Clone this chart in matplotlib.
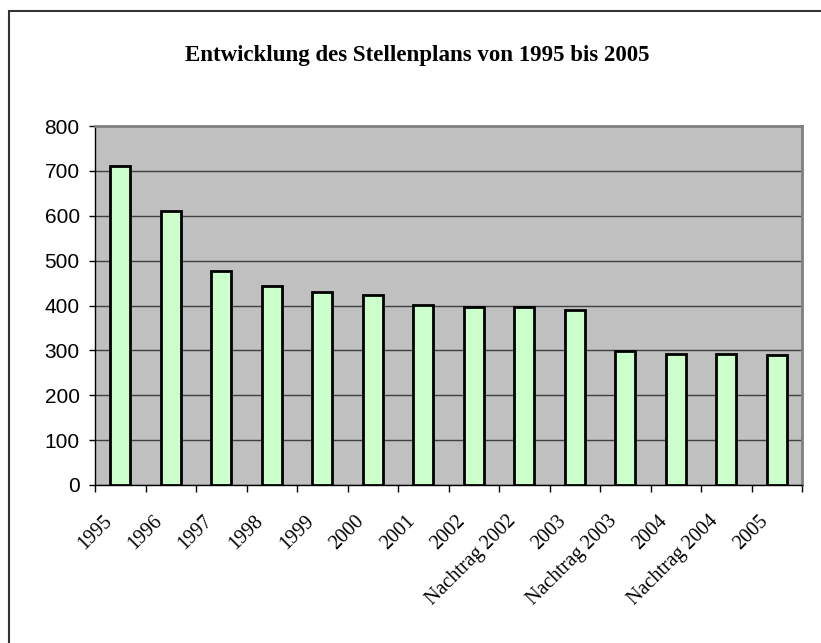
import matplotlib.pyplot as plt
import matplotlib.transforms as mtransforms
from matplotlib.patches import Rectangle
import numpy as np

categories = ['1995', '1996', '1997', '1998', '1999', '2000', '2001', '2002',
              'Nachtrag 2002', '2003', 'Nachtrag 2003', '2004', 'Nachtrag 2004', '2005']
stellen = [710, 611, 476, 444, 429, 424, 401, 396, 396, 389, 298, 293, 293, 290]

fig = plt.figure(figsize=(8.21, 6.43), dpi=100)
ax = fig.add_axes([95/821, 1-485/643, (802-95)/821, (485-126)/643])

# outer chart border (right/bottom run off the image)
fig.patches.append(Rectangle((8.5/821, -0.1), 1.2, 1.1 - 11.5/643, transform=fig.transFigure,
                             fill=False, edgecolor='#333333', linewidth=1.5))

x = np.arange(len(categories))
ax.set_facecolor('#c0c0c0')
ax.bar(x, stellen, width=0.4, color='#ccffcc', edgecolor='black', linewidth=2, zorder=3)

ax.set_xlim(-0.5, len(categories) - 0.5)
ax.set_ylim(0, 800)
ax.set_yticks(range(0, 801, 100))
ax.yaxis.grid(True, color='#404040', linewidth=1)
ax.set_axisbelow(True)

ax.set_xticks(x)
ax.set_xticklabels(categories, rotation=45, ha='right', va='top', rotation_mode='anchor',
                   fontfamily='Liberation Serif', fontsize=14.5)
ax.tick_params(axis='x', length=0, pad=19)
shift = mtransforms.ScaledTranslation(-18/100, 0, fig.dpi_scale_trans)
for lab in ax.get_xticklabels():
    lab.set_transform(lab.get_transform() + shift)
ax.set_xticks(np.arange(-0.5, len(categories), 1), minor=True)
ax.tick_params(axis='x', which='minor', length=5, direction='out', width=1)
for lab in ax.get_yticklabels():
    lab.set_fontfamily('Liberation Sans')
ax.tick_params(axis='y', length=4, width=1, labelsize=15, pad=7)

for s in ['top', 'right']:
    ax.spines[s].set_color('#808080')
    ax.spines[s].set_linewidth(2)
for s in ['left', 'bottom']:
    ax.spines[s].set_color('black')
    ax.spines[s].set_linewidth(1)

fig.text(417/821, 1-55/643, 'Entwicklung des Stellenplans von 1995 bis 2005',
         ha='center', va='center', fontfamily='Liberation Serif', fontweight='bold', fontsize=16.5)

fig.savefig('out.png', dpi=100)
